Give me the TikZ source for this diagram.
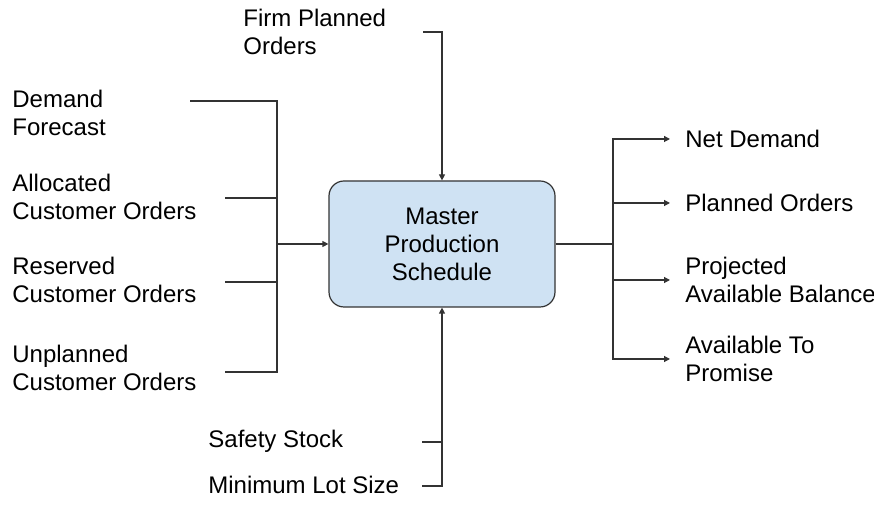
\documentclass[tikz,border=0pt]{standalone}
\usepackage{fontspec}
\setmainfont{Liberation Sans}
\definecolor{mpsblue}{HTML}{CFE2F3}
\definecolor{wiregray}{HTML}{333333}
\usetikzlibrary{arrows.meta,positioning}

\begin{document}
\begin{tikzpicture}[
  x=0.5pt, y=-0.5pt,
  box/.style={draw=wiregray, fill=mpsblue, rounded corners=7.5pt,
    line width=0.6pt, minimum width=113pt, minimum height=63pt,
    align=center, font=\fontsize{12}{14}\selectfont},
  lbl/.style={anchor=west, inner sep=0pt, align=left,
    font=\fontsize{12}{13.6}\selectfont},
  wire/.style={draw=wiregray, line width=0.6pt},
  arr/.style={wire, -{Triangle[length=3pt,width=3pt]}}
]
  \useasboundingbox (0,0) rectangle (874,506);

  % Schedule box
  \node[box] (mps) at (442,244) {Master\\Production\\Schedule};

  % Inputs on the left
  \node[lbl] (fcst) at (12,113) {Demand\\Forecast};
  \node[lbl] (alloc) at (12,197) {Allocated\\Customer Orders};
  \node[lbl] (resv) at (12,280) {Reserved\\Customer Orders};
  \node[lbl] (unpl) at (12,368) {Unplanned\\Customer Orders};

  % Inputs above and below
  \node[lbl] (firm) at (243,32) {Firm Planned\\Orders};
  \node[lbl] (safety) at (208,441) {Safety Stock};
  \node[lbl] (minlot) at (208,485) {Minimum Lot Size};

  % Outputs
  \node[lbl] (netd) at (685,139) {Net Demand};
  \node[lbl] (plord) at (685,203) {Planned Orders};
  \node[lbl] (pab) at (685,280) {Projected\\Available Balance};
  \node[lbl] (atp) at (685,359) {Available To\\Promise};

  % Line ends
  \coordinate (fcstEnd) at (190,101);
  \coordinate (allocEnd) at (225,198);
  \coordinate (resvEnd) at (225,282);
  \coordinate (unplEnd) at (225,372);
  \coordinate (inBus) at (277,244);
  \coordinate (outBus) at (613,244);
  \coordinate (firmEnd) at (423,32);
  \coordinate (safetyEnd) at (422,442);
  \coordinate (minlotEnd) at (422,486);

  % Left bus
  \draw[wire] (fcstEnd) -| (inBus);
  \draw[wire] (unplEnd) -| (inBus);
  \draw[wire] (allocEnd) -- (allocEnd -| inBus);
  \draw[wire] (resvEnd) -- (resvEnd -| inBus);
  \draw[arr] (inBus) -- (mps.west);

  % Top and bottom feeds
  \draw[arr] (firmEnd) -| (mps.north);
  \draw[arr] (minlotEnd) -| (mps.south);
  \draw[wire] (safetyEnd) -- (safetyEnd -| mps.south);

  % Right bus
  \draw[wire] (mps.east) -- (outBus);
  \draw[arr, shorten >=7.5pt] (outBus) |- (netd.west);
  \draw[arr, shorten >=7.5pt] (outBus) |- (plord.west);
  \draw[arr, shorten >=7.5pt] (outBus) |- (pab.west);
  \draw[arr, shorten >=7.5pt] (outBus) |- (atp.west);
\end{tikzpicture}
\end{document}
